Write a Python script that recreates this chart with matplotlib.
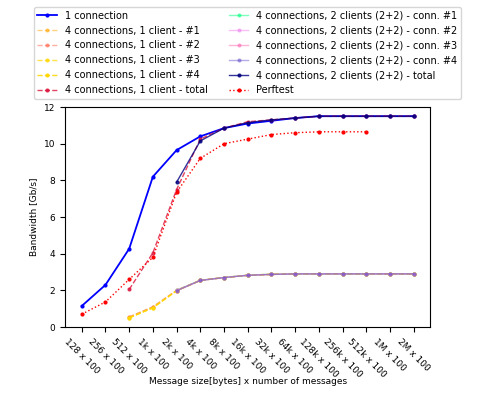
import matplotlib
matplotlib.use("Agg")
import matplotlib.pyplot as plt

sizes = ["128", "256", "512", "1k", "2k", "4k", "8k", "16k", "32k",
         "64k", "128k", "256k", "512k", "1M", "2M"]
tick_labels = [s + " x 100" for s in sizes]

one_conn = [1.15, 2.3, 4.27, 8.2, 9.65, 10.4, 10.85, 11.1, 11.25,
            11.4, 11.5, 11.5, 11.5, 11.5, 11.5]

# 4 connections, 1 client (starts at 512)
c1_conn1 = [0.55, 1.1, 2.0, 2.55, 2.7, 2.83, 2.88, 2.9, 2.9, 2.9, 2.9, 2.9, 2.9]
c1_conn2 = [0.55, 1.1, 2.0, 2.55, 2.7, 2.82, 2.87, 2.9, 2.9, 2.9, 2.9, 2.9, 2.9]
c1_conn3 = [0.5, 1.05, 1.98, 2.55, 2.7, 2.83, 2.88, 2.9, 2.9, 2.9, 2.9, 2.9, 2.9]
c1_conn4 = [0.5, 1.05, 1.98, 2.54, 2.7, 2.82, 2.87, 2.9, 2.9, 2.9, 2.9, 2.9, 2.9]
c1_total = [2.05, 4.05, 7.5, 10.25, 10.85, 11.2, 11.3, 11.4, 11.5, 11.5, 11.5, 11.5, 11.5]

# 4 connections, 2 clients (starts at 2k)
c2_conn1 = [2.0, 2.55, 2.7, 2.83, 2.88, 2.9, 2.9, 2.9, 2.9, 2.9, 2.9]
c2_conn2 = [2.0, 2.55, 2.7, 2.83, 2.88, 2.9, 2.9, 2.9, 2.9, 2.9, 2.9]
c2_conn3 = [1.98, 2.54, 2.7, 2.82, 2.87, 2.9, 2.9, 2.9, 2.9, 2.9, 2.9]
c2_conn4 = [1.98, 2.54, 2.7, 2.82, 2.87, 2.9, 2.9, 2.9, 2.9, 2.9, 2.9]
c2_total = [7.9, 10.15, 10.85, 11.15, 11.3, 11.4, 11.5, 11.5, 11.5, 11.5, 11.5]

perftest = [0.7, 1.37, 2.6, 3.8, 7.35, 9.2, 10.0, 10.25, 10.5, 10.6, 10.65, 10.65, 10.65]

x = list(range(len(sizes)))

plt.rcParams["lines.linewidth"] = 1.0
plt.rcParams["lines.markersize"] = 4

fig = plt.figure(figsize=(4.9, 3.95), dpi=100)
ax = fig.add_axes([0.133, 0.172, 0.745, 0.557])

ax.plot(x, one_conn, color="blue", marker=".", lw=1.3, label="1 connection")

x1 = x[2:]
ax.plot(x1, c1_conn1, color="orange", ls="--", marker=".", alpha=0.5, label="4 connections, 1 client - #1")
ax.plot(x1, c1_conn2, color="tomato", ls="--", marker=".", alpha=0.5, label="4 connections, 1 client - #2")
ax.plot(x1, c1_conn3, color="gold", ls="--", marker=".", alpha=0.7, label="4 connections, 1 client - #3")
ax.plot(x1, c1_conn4, color="gold", ls="--", marker=".", alpha=0.9, label="4 connections, 1 client - #4")
ax.plot(x1, c1_total, color="crimson", ls="--", marker=".", alpha=0.8, label="4 connections, 1 client - total")

x2 = x[4:]
ax.plot(x2, c2_conn1, color="springgreen", marker=".", alpha=0.5, label="4 connections, 2 clients (2+2) - conn. #1")
ax.plot(x2, c2_conn2, color="violet", marker=".", alpha=0.5, label="4 connections, 2 clients (2+2) - conn. #2")
ax.plot(x2, c2_conn3, color="hotpink", marker=".", alpha=0.5, label="4 connections, 2 clients (2+2) - conn. #3")
ax.plot(x2, c2_conn4, color="slateblue", marker=".", alpha=0.5, label="4 connections, 2 clients (2+2) - conn. #4")
ax.plot(x2, c2_total, color="navy", marker=".", alpha=0.8, label="4 connections, 2 clients (2+2) - total")

ax.plot(x[:len(perftest)], perftest, color="red", ls=":", marker=".", label="Perftest")

ax.set_ylim(0, 12)
ax.set_xticks(x)
ax.set_xticklabels(tick_labels, rotation=-45, fontsize=6.5)
ax.tick_params(axis="y", labelsize=6.5)
ax.set_ylabel("Bandwidth [Gb/s]", fontsize=6.5)
ax.set_xlabel("Message size[bytes] x number of messages", fontsize=6.5)
ax.xaxis.set_label_coords(0.5, -0.225)

fig.legend(loc="upper center", bbox_to_anchor=(0.505, 0.995), ncol=2, fontsize=7,
           handlelength=2, columnspacing=2.2)

fig.savefig("out.png", dpi=100)
